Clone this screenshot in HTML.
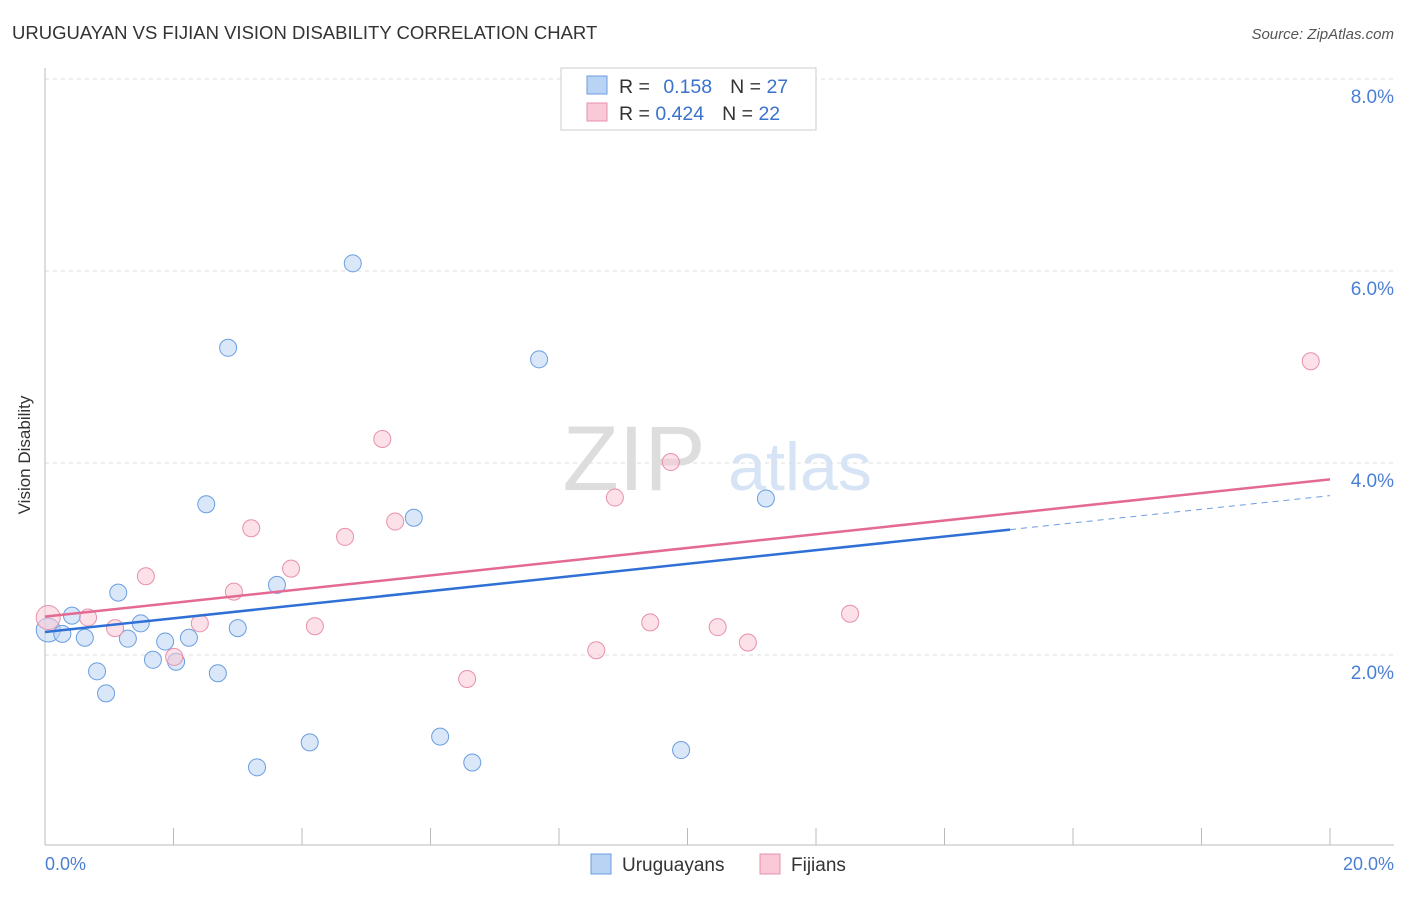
<!DOCTYPE html>
<html><head><meta charset="utf-8"><style>
body{margin:0;background:#fff;font-family:"Liberation Sans",sans-serif}
svg text{font-family:"Liberation Sans",sans-serif}
</style></head><body>
<svg width="1406" height="892" viewBox="0 0 1406 892" xmlns="http://www.w3.org/2000/svg">
<text x="12" y="39" font-size="18.5" fill="#333">URUGUAYAN VS FIJIAN VISION DISABILITY CORRELATION CHART</text>
<text x="1394" y="39" font-size="15" fill="#555" font-style="italic" text-anchor="end">Source: ZipAtlas.com</text>
<text x="634" y="490" font-size="92" fill="#ddd" font-family="Liberation Serif" text-anchor="middle">ZIP</text>
<text x="800" y="490" font-size="68" fill="#d6e4f5" text-anchor="middle">atlas</text>
<g id="grid"></g>
<line x1="45" y1="68" x2="45" y2="845" stroke="#bbb"/>
<line x1="45" y1="845" x2="1394" y2="845" stroke="#bbb"/>
<g id="xticks"></g>
<text x="30" y="455" font-size="17" fill="#333" text-anchor="middle" transform="rotate(-90 30 455)">Vision Disability</text>
<text x="45" y="870" font-size="18" fill="#4a7fd4">0.0%</text>
<text x="1394" y="870" font-size="18" fill="#4a7fd4" text-anchor="end">20.0%</text>
<g id="pts"></g>
<g id="trends"></g>
<g>
<rect x="561" y="68" width="255" height="62" fill="#fff" stroke="#ccc"/>
<rect x="587" y="76" width="20" height="18" fill="#b9d3f4" stroke="#6a9ee0"/>
<rect x="587" y="103" width="20" height="18" fill="#f9c9d7" stroke="#e890ab"/>
<text x="619" y="93" font-size="19.5" fill="#333">R = <tspan fill="#3a72cc" dx="8">0.158</tspan><tspan dx="18">N = </tspan><tspan fill="#3a72cc">27</tspan></text>
<text x="619" y="120" font-size="19.5" fill="#333">R = <tspan fill="#3a72cc">0.424</tspan><tspan dx="18">N = </tspan><tspan fill="#3a72cc">22</tspan></text>
</g>
<g>
<rect x="591" y="854" width="20" height="20" fill="#b9d3f4" stroke="#6a9ee0"/>
<text x="622" y="871" font-size="19" fill="#333">Uruguayans</text>
<rect x="760" y="854" width="20" height="20" fill="#f9c9d7" stroke="#e890ab"/>
<text x="791" y="871" font-size="19" fill="#333">Fijians</text>
</g>
</svg>
<script>
const yTicks=[2,4,6,8];
const xTickVals=[0,2,4,6,8,10,12,14,16,18,20];
const blueX=[0.05,0.27,0.42,0.62,0.81,0.95,1.14,1.29,1.49,1.68,1.87,2.04,2.24,2.51,2.69,2.85,3.00,3.30,3.61,4.12,4.79,5.74,6.15,6.65,7.69,9.90,11.22];
const blueY=[2.26,2.22,2.41,2.18,1.83,1.60,2.65,2.17,2.33,1.95,2.14,1.93,2.18,3.57,1.81,5.20,2.28,0.83,2.73,1.09,6.08,3.43,1.15,0.88,5.08,1.01,3.63];
const pinkX=[0.05,0.67,1.09,1.57,2.01,2.41,2.94,3.21,3.83,4.20,4.67,5.25,5.45,6.57,8.58,8.87,9.42,9.74,10.47,10.94,12.53,19.70];
const pinkY=[2.39,2.39,2.28,2.82,1.98,2.33,2.66,3.32,2.90,2.30,3.23,4.25,3.39,1.75,2.05,3.64,2.34,4.01,2.29,2.13,2.43,5.06];
const blueTrend=[2.24,3.66];
const pinkTrend=[2.40,3.83];
const xs=v=>45+v*64.25, ys=v=>847-v*96;
const NS='http://www.w3.org/2000/svg';
function mk(t,a,p){const e=document.createElementNS(NS,t);for(const k in a)e.setAttribute(k,a[k]);p.appendChild(e);return e;}
const grid=document.getElementById('grid');
yTicks.forEach(v=>{
 const l=mk('line',{x1:45,x2:1394,y1:ys(v),y2:ys(v),stroke:'#ddd','stroke-dasharray':'4 4'},grid);
 
 
 const t=mk('text',{x:1394,y:ys(v)+24,'font-size':19,fill:'#4a7fd4','text-anchor':'end'},grid);
 t.textContent=v.toFixed(1)+'%';
 
 
});
const xt=document.getElementById('xticks');
xTickVals.forEach(v=>{
 const l=mk('line',{x1:xs(v),x2:xs(v),y1:828,y2:845,stroke:'#bbb'},xt);
 
 
});
const pts=document.getElementById('pts');
function dots(X,Y,fill,stroke,name){X.forEach((x,i)=>{
 const c=mk('circle',{cx:xs(x),cy:ys(Y[i]),r:i===0?12:8.5,fill:fill,'fill-opacity':0.55,stroke:stroke,'stroke-width':1},pts);
 
 
});}
dots(blueX,blueY,'#b9d3f4','#6a9ee0','uruguayan-point');
dots(pinkX,pinkY,'#f9c9d7','#e890ab','fijian-point');
const tr=document.getElementById('trends');
const bm=blueTrend[0]+(blueTrend[1]-blueTrend[0])*(15.02/20);
let l=mk('line',{x1:xs(0),y1:ys(blueTrend[0]),x2:xs(15.02),y2:ys(bm),stroke:'#2f6fd6','stroke-width':2.5},tr);


l=mk('line',{x1:xs(15.02),y1:ys(bm),x2:xs(20),y2:ys(blueTrend[1]),stroke:'#6a9ee0','stroke-width':1,'stroke-dasharray':'6 5'},tr);


l=mk('line',{x1:xs(0),y1:ys(pinkTrend[0]),x2:xs(20),y2:ys(pinkTrend[1]),stroke:'#e46a93','stroke-width':2.5},tr);


</script>
</body></html>
